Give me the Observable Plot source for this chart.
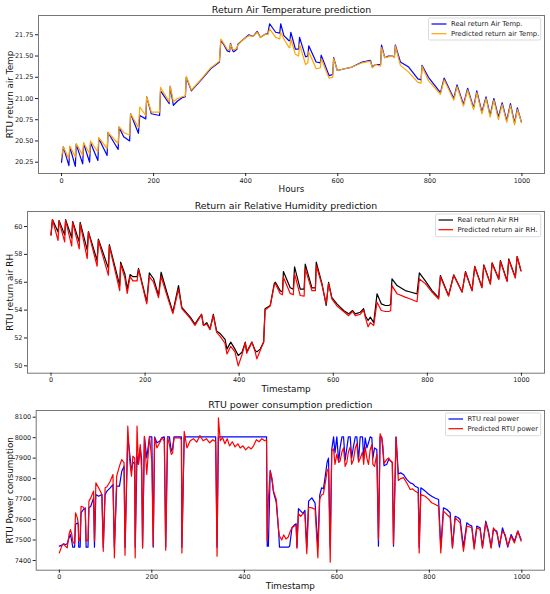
<!DOCTYPE html>
<html><head><meta charset="utf-8">
<script src="https://cdn.jsdelivr.net/npm/d3@7"></script>
<script src="https://cdn.jsdelivr.net/npm/@observablehq/plot@0.6"></script>
<style>body{margin:0;background:#fff} #c svg{display:block}</style>
</head><body><div id="c"></div>
<script>
// ---------- Panel 1: return air temperature ----------
const tempHours = [0,4,16,18,30,32,46,48,61,63,79,81,99,101,123,125,135,148,150,167,170,183,185,195,213,215,234,236,243,252,262,269,271,282,302,324,343,346,352,360,365,367,372,374,381,383,396,407,416,425,432,443,448,452,465,474,476,483,494,496,498,508,515,517,530,535,537,553,562,564,581,589,591,599,615,631,653,671,675,682,693,695,702,710,718,723,725,736,754,774,781,783,797,823,831,852,859,873,882,895,902,913,922,931,939,949,957,967,975,984,990,999];
const tempReal = [20.25,20.43,20.21,20.43,20.20,20.46,20.23,20.47,20.25,20.48,20.27,20.53,20.33,20.60,20.40,20.66,20.55,20.50,20.82,20.59,20.80,20.76,21.02,20.82,20.80,21.09,20.94,21.14,20.92,20.97,21.01,21.02,21.25,21.09,21.21,21.35,21.43,21.68,21.64,21.56,21.55,21.65,21.56,21.55,21.58,21.64,21.70,21.75,21.73,21.79,21.72,21.76,21.76,21.88,21.78,21.77,21.88,21.74,21.68,21.68,21.78,21.58,21.58,21.72,21.49,21.50,21.62,21.43,21.42,21.51,21.27,21.28,21.48,21.33,21.35,21.37,21.43,21.45,21.37,21.40,21.40,21.63,21.48,21.50,21.50,21.49,21.63,21.43,21.37,21.23,21.22,21.39,21.25,21.07,21.24,21.00,21.16,20.93,21.12,20.89,21.09,20.84,21.02,20.80,21.00,20.78,20.95,20.74,20.94,20.71,20.89,20.72];
const tempPred = [20.31,20.43,20.29,20.44,20.31,20.47,20.33,20.48,20.35,20.50,20.37,20.54,20.41,20.60,20.47,20.67,20.60,20.57,20.82,20.66,20.90,20.80,21.02,20.84,20.84,21.13,20.96,21.15,20.96,21.00,21.02,21.03,21.26,21.10,21.22,21.36,21.44,21.70,21.65,21.58,21.57,21.64,21.58,21.57,21.59,21.63,21.70,21.74,21.73,21.78,21.72,21.76,21.75,21.82,21.72,21.70,21.78,21.70,21.60,21.60,21.70,21.52,21.50,21.64,21.40,21.42,21.55,21.35,21.36,21.47,21.24,21.25,21.47,21.33,21.35,21.37,21.42,21.44,21.36,21.40,21.38,21.60,21.48,21.49,21.50,21.48,21.62,21.39,21.31,21.19,21.18,21.38,21.21,21.05,21.22,20.98,21.14,20.91,21.10,20.87,21.07,20.82,21.00,20.78,20.98,20.75,20.93,20.72,20.92,20.69,20.87,20.72];
const tempTicks = [20.25,20.5,20.75,21.0,21.25,21.5,21.75];

// ---------- Panel 2: return air relative humidity ----------
const rhStamp = [0,3,15,17,29,31,44,46,60,62,77,79.5,98,100.7,122,124,146,148,157,162,168,174,183,186,203.5,209,218,228.5,234,246,259,271,278,296,306,313,320,324,331,338,345,352,360,370,374,382,391,398,406,413,416,427,434,437.6,444.6,452,455,466,474.5,477,487,492,494,508.5,515,517.7,529.8,538,540.4,554.6,562,563.8,576,585,590,597,607.8,622,632.6,641,646.8,657.5,664.5,668,674,678.7,686,693,702,710.6,717.7,722,724.8,735.5,753,764,778,783,795.7,810,824,827.7,845,856,873.8,881,895,900.7,916,920,934,937.6,951.8,955.3,969.5,973,987,990.8,999];
const rhReal = [59.4,60.5,59.6,60.43,59.4,60.5,59.2,60.36,58.9,60.3,58.3,59.64,57.56,59.1,57.0,58.7,55.77,57.44,56.6,55.5,56.55,56.4,56.4,57.0,54.6,56.67,56.25,55.05,56.72,55.3,53.85,55.76,54.2,53.5,53.0,53.37,53.7,52.9,53.1,52.65,53.7,52.5,52.3,51.9,51.2,51.7,51.2,50.74,50.97,51.7,51.0,51.7,51.1,51.0,51.2,51.7,54.1,54.33,55.9,56.0,55.4,55.3,56.77,55.6,55.5,57.1,55.5,55.5,57.3,55.6,55.6,57.44,55.9,54.33,56.0,54.9,54.45,53.97,53.73,53.97,53.73,53.85,54.1,53.6,53.25,53.5,53.1,55.17,54.45,54.33,54.33,54.4,56.25,55.76,55.4,55.3,55.17,56.67,56.1,55.4,54.9,56.48,55.05,56.53,55.3,56.77,55.4,57.15,55.65,57.25,55.9,57.4,56.24,57.56,56.1,57.68,56.36,57.85,56.84];
const rhPred = [59.4,60.5,59.0,60.4,58.9,60.45,58.6,60.3,58.4,60.2,57.7,59.6,57.15,59.0,56.5,58.6,55.4,57.3,56.3,55.2,56.4,56.1,56.1,56.9,54.45,56.4,56.0,54.9,56.4,55.1,53.75,55.5,54.1,53.4,52.9,53.3,53.7,52.9,53.0,52.6,53.6,52.4,52.1,51.6,50.85,51.4,51.0,50.0,50.8,51.65,50.9,51.7,51.0,50.5,51.1,51.7,54.0,54.3,55.8,55.9,55.2,55.1,56.36,55.2,55.1,56.6,55.05,55.0,56.96,55.4,55.4,57.2,55.8,54.45,55.9,54.8,54.3,53.9,53.6,53.9,53.6,53.7,54.0,53.5,52.8,53.1,52.9,54.57,53.97,53.9,53.9,53.95,55.76,55.17,54.93,54.8,54.6,56.24,55.9,55.3,54.8,56.4,55.0,56.5,55.3,56.7,55.4,57.1,55.6,57.2,55.85,57.35,56.2,57.5,56.05,57.6,56.3,57.85,56.8];
const rhTicks = [50,52,54,56,58,60];

// ---------- Panel 3: RTU power consumption ----------
const pwStamp = [0,6,9,13,17,21,24,27,29,33,35,39,41,42,45,47,52,56,58,62,64,68,74,76,79,85,92,95,99,103,110,116,119,124,130,135,140,142,148,152,156,159,163,164,168,171,175,178,180,184,189,195,200,203,206,211,217,222,227,230,234,238,242,245,248,261,264,265,270,276,283,290,297,304,311,318,325,332,338,341,344,348,353,358,363,368,374,380,386,391,397,403,409,415,420,426,432,438,444,448,449.5,452,456,460,463,469,474,476,481,485,490,495,498,503,509,512,513.7,517,522,527,531,535,539,546,553,559,563,567,571,575,579,582,585.7,589,593,596,600,604,607,611,614.5,618,621.7,625,629,632,636,640,643.3,647,650.5,655.5,658,661.3,665,668.5,672,675.7,678,681.5,686.5,690,693.5,697,699.6,702,708,712,715,720,722.5,728,733,738,744,751,758.6,764,769,776,778,781.6,791,798,805,812,820,824.8,830.6,837.8,845,850,855.8,862,866.6,873.8,881,886,891.8,896.9,902.6,909.8,914.9,922,927.8,933.6,938.6,945.9,951.6,958.1,963.9,969.6,976.8,984,991.3,998.5];
const pwReal = [7470,7475,7481,7478,7481,7511,7527,7494,7465,7465,7576,7584,7575,7465,7465,7633,7649,7657,7465,7465,7657,7665,7706,7465,7722,7714,7722,7465,7722,7739,7755,7771,7465,7763,7763,7836,7861,7465,8004,7926,7836,7877,7880,7465,7910,7869,7950,7893,7465,8004,7901,8004,8004,7465,8004,7975,7983,8000,8004,7465,8004,8004,7934,7950,8004,8004,8004,7465,8004,8004,8004,8004,8004,8004,8004,8004,8004,8004,8004,7465,8004,8004,8004,8004,8004,8004,8004,8004,8004,8004,8004,8004,8004,8004,8004,8004,8004,8004,8004,8004,7470,7470,7840,7790,7734,7685,7547,7465,7465,7465,7465,7465,7470,7560,7575,7580,7465,7653,7641,7630,7645,7465,7690,7706,7680,7465,7718,7755,7750,7812,7880,7900,7465,7942,8004,7926,8004,7880,7950,8004,8004,7890,7950,8004,8004,7900,7958,8004,8004,7890,8004,8004,7900,7999,7950,7975,8004,7999,7900,7950,7942,7470,8004,8004,7938,7863,7870,7893,7890,7877,7470,8004,7823,7828,7820,7796,7779,7775,7763,7755,7465,7755,7739,7725,7714,7705,7698,7465,7657,7649,7633,7465,7616,7610,7600,7465,7584,7575,7568,7465,7568,7560,7465,7592,7544,7465,7551,7544,7465,7560,7519,7465,7527,7494,7544,7502];
const pwPred = [7437,7475,7481,7470,7462,7527,7551,7527,7494,7480,7633,7608,7580,7494,7510,7665,7660,7645,7494,7500,7690,7706,7739,7494,7779,7755,7722,7445,7755,7760,7787,7820,7413,7812,7861,7893,7877,7426,8056,7893,7812,7910,7900,7413,8056,7869,7966,7836,7460,8007,7820,8007,7885,7470,7999,7950,7975,8000,7983,7450,8004,7966,7918,7926,7999,7999,7990,7437,8031,7950,7985,7995,7978,8010,7985,7995,7975,7990,7980,7421,8097,7985,8000,7970,7995,7960,7980,7955,7970,7950,7960,7940,7955,7945,7960,7990,7980,7995,7985,7990,7494,7700,7836,7800,7740,7700,7550,7520,7500,7525,7505,7515,7535,7560,7570,7570,7460,7629,7616,7630,7625,7433,7660,7657,7650,7413,7700,7720,7725,7779,7836,7850,7392,7934,7945,7869,7920,7880,7885,7930,7950,7860,7880,7930,7955,7870,7892,7950,7971,7880,7898,7930,7870,7955,7900,7869,7940,7966,7870,7860,7920,7500,8019,7999,7960,7874,7894,7901,7890,7880,7480,8002,7791,7800,7805,7780,7747,7750,7739,7730,7437,7722,7714,7700,7682,7675,7665,7437,7641,7625,7610,7460,7608,7595,7584,7445,7568,7565,7560,7455,7560,7551,7460,7584,7535,7460,7560,7535,7480,7544,7527,7470,7519,7486,7544,7494];
const pwTicks = [7400,7500,7600,7700,7800,7900,8000,8100];

const xTicks = [0,200,400,600,800,1000];

const panels = [
  {x: tempHours, real: tempReal, pred: tempPred, c1: "#0000ff", c2: "#ffa500",
   height: 195, mt: 15, mb: 22, ml: 38, ydomain: [20.117, 21.977], yticks: tempTicks, fmt: d3.format(".2f"),
   title: "Return Air Temperature prediction", xlabel: "Hours", ylabel: "RTU return air Temp", ylx: -28,
   legend: {box: [428.5, 18, 540.7, 40], lx: [431.5, 446.5], ly: [24, 33.7], tx: 451,
            names: ["Real return Air Temp.", "Predicted return air Temp."]}},
  {x: rhStamp, real: rhReal, pred: rhPred, c1: "#000000", c2: "#ff0000",
   height: 199, mt: 16, mb: 21.3, ml: 27, ydomain: [49.47, 61.08], yticks: rhTicks, fmt: d3.format("d"),
   title: "Return air Relative Humidity prediction", xlabel: "Timestamp", ylabel: "RTU return air RH", ylx: -17,
   legend: {box: [435.5, 19, 540.7, 41.7], lx: [438.5, 453], ly: [25, 34.7], tx: 457.5,
            names: ["Real return Air RH", "Predicted return air RH."]}},
  {x: pwStamp, real: pwReal, pred: pwPred, c1: "#0000ff", c2: "#ff0000",
   height: 200, mt: 16, mb: 24.3, ml: 35.7, ydomain: [7352.6, 8132.7], yticks: pwTicks, fmt: d3.format("d"),
   title: "RTU power consumption prediction", xlabel: "Timestamp", ylabel: "RTU Power consumption", ylx: -25.7,
   legend: {box: [445.5, 19, 540.7, 41.7], lx: [448.5, 463], ly: [25, 34.7], tx: 467.5,
            names: ["RTU real power", "Predicted RTU power"]}}
];

const container = document.getElementById("c");
for (const p of panels) {
  const rows = p.x.map((x, i) => ({x, real: p.real[i], pred: p.pred[i]}));
  const svg = Plot.plot({
    width: 550, height: p.height,
    marginTop: p.mt, marginBottom: p.mb, marginLeft: p.ml, marginRight: 6,
    style: {fontFamily: "DejaVu Sans, sans-serif", fontSize: "6.5px", color: "#222", background: "#fff"},
    x: {domain: [-50, 1049]},
    y: {domain: p.ydomain},
    marks: [
      Plot.line(rows, {x: "x", y: "real", stroke: p.c1, strokeWidth: 1.2}),
      Plot.line(rows, {x: "x", y: "pred", stroke: p.c2, strokeWidth: 1.2}),
      Plot.frame({stroke: "#777", strokeWidth: 1}),
      Plot.axisX({ticks: xTicks, tickFormat: d3.format("d"), tickSize: 3, tickPadding: 1.5, label: null, fontSize: 6.5}),
      Plot.axisY({ticks: p.yticks, tickFormat: p.fmt, tickSize: 3, tickPadding: 2, label: null, fontSize: 6.5}),
      Plot.text([p.title], {text: d => d, frameAnchor: "top", dy: -5.5, lineAnchor: "middle", fontSize: 9.4, fill: "#111", textAnchor: "middle"}),
      Plot.text([p.xlabel], {text: d => d, frameAnchor: "bottom", dy: 16, lineAnchor: "middle", fontSize: 8.8, fill: "#111", textAnchor: "middle"}),
      Plot.text([p.ylabel], {text: d => d, frameAnchor: "left", dx: p.ylx, rotate: -90, lineAnchor: "middle", fontSize: 8.8, fill: "#111", textAnchor: "middle"})
    ]
  });
  const L = p.legend;
  const g = d3.select(svg).append("g").attr("font-family", "DejaVu Sans, sans-serif").attr("font-size", 6.8).attr("text-anchor", "start");
  g.append("rect").attr("x", L.box[0]).attr("y", L.box[1]).attr("width", L.box[2] - L.box[0]).attr("height", L.box[3] - L.box[1])
    .attr("rx", 1.5).attr("fill", "#fff").attr("fill-opacity", 0.8).attr("stroke", "#ccc").attr("stroke-width", 0.7);
  [p.c1, p.c2].forEach((c, i) => {
    g.append("line").attr("x1", L.lx[0]).attr("x2", L.lx[1]).attr("y1", L.ly[i]).attr("y2", L.ly[i]).attr("stroke", c).attr("stroke-width", 1.2);
    g.append("text").attr("x", L.tx).attr("y", L.ly[i]).attr("dy", "0.35em").attr("text-anchor", "start").attr("fill", "#222").text(L.names[i]);
  });
  container.appendChild(svg);
}
</script>
</body></html>
